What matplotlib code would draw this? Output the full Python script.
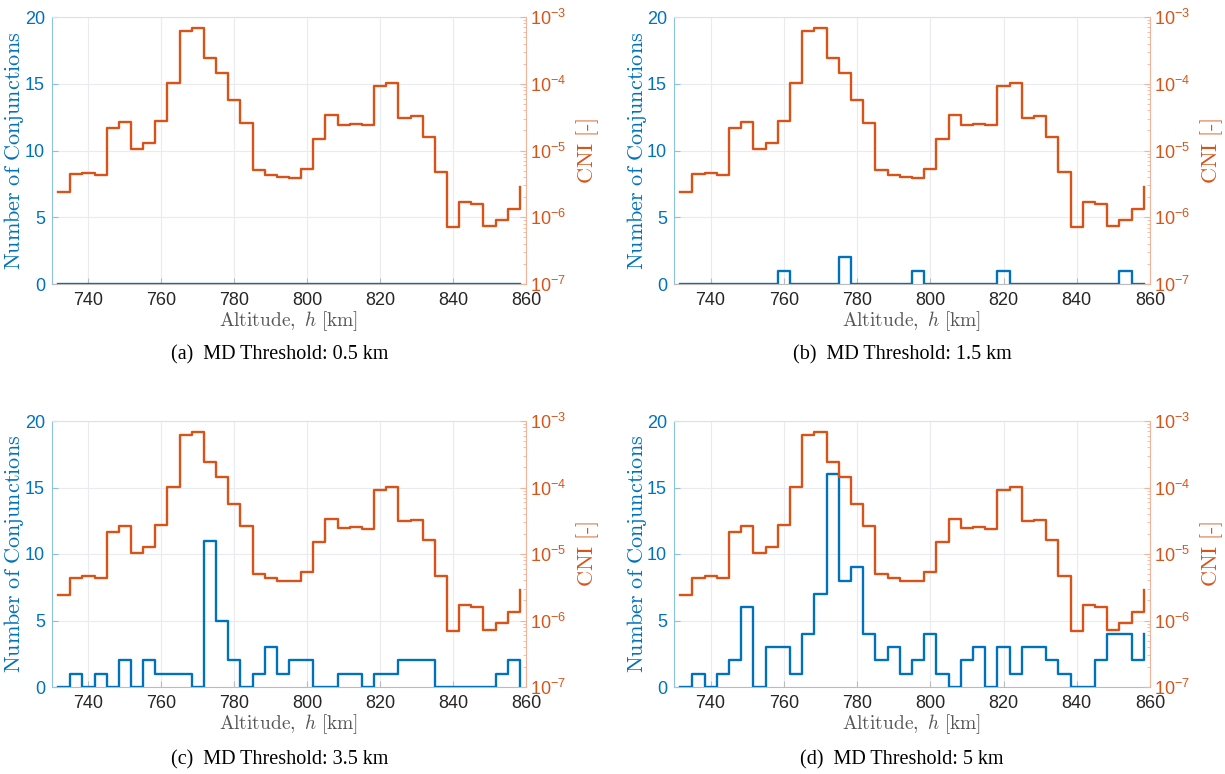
import matplotlib
matplotlib.use("Agg")
import matplotlib.pyplot as plt
import numpy as np
from matplotlib.ticker import LogLocator, NullFormatter

plt.rcParams['font.family'] = ['Liberation Sans', 'DejaVu Sans']

# bin start altitudes [km] (stairs plot, 3.33 km bins)
alt = 731.667 + 10.0 / 3.0 * np.arange(39)

# CNI per bin (same in every panel)
cni = [2.43e-6, 4.41e-6, 4.67e-6, 4.36e-6, 2.14e-5, 2.67e-5, 1.04e-5, 1.29e-5,
       2.73e-5, 1.01e-4, 6.25e-4, 6.86e-4, 2.44e-4, 1.46e-4, 5.62e-5, 2.61e-5,
       5.06e-6, 4.36e-6, 3.97e-6, 3.88e-6, 5.30e-6, 1.50e-5, 3.36e-5, 2.43e-5,
       2.52e-5, 2.40e-5, 9.20e-5, 1.03e-4, 3.10e-5, 3.28e-5, 1.61e-5, 4.72e-6,
       7.03e-7, 1.70e-6, 1.60e-6, 7.28e-7, 9.25e-7, 1.34e-6, 2.85e-6]

# number of conjunctions per bin for each MD threshold
n_05 = [0] * 39
n_15 = [0, 0, 0, 0, 0, 0, 0, 0, 1, 0, 0, 0, 0, 2, 0, 0, 0, 0, 0, 1,
        0, 0, 0, 0, 0, 0, 1, 0, 0, 0, 0, 0, 0, 0, 0, 0, 1, 0, 0]
n_35 = [0, 1, 0, 1, 0, 2, 0, 2, 1, 1, 1, 0, 11, 5, 2, 0, 1, 3, 1, 2,
        2, 0, 0, 1, 1, 0, 1, 1, 2, 2, 2, 0, 0, 0, 0, 0, 1, 2, 0]
n_5 = [0, 1, 0, 1, 2, 6, 0, 3, 3, 1, 4, 7, 16, 8, 9, 4, 2, 3, 1, 2,
       4, 1, 0, 2, 3, 0, 3, 1, 3, 3, 2, 1, 0, 0, 2, 4, 4, 2, 4]

captions = ['(a)  MD Threshold: 0.5 km', '(b)  MD Threshold: 1.5 km',
            '(c)  MD Threshold: 3.5 km', '(d)  MD Threshold: 5 km']
counts = [n_05, n_15, n_35, n_5]

blue = '#0072BD'
orange = '#D95319'

W, H = 1225, 774
fig = plt.figure(figsize=(W / 100, H / 100), dpi=100)

# axes boxes in pixels: left, top, right, bottom
boxes = [(52, 17, 526, 284), (674, 17, 1150, 284),
         (52, 421, 526, 687), (674, 421, 1150, 687)]
cap_y = [355, 355, 760, 760]

for i in range(4):
    l, t, r, b = boxes[i]
    ax = fig.add_axes([l / W, 1 - b / H, (r - l) / W, (b - t) / H])
    ax.step(alt, counts[i], where='post', color=blue, lw=1.7, zorder=3)
    ax.set_xlim(730, 860)
    ax.set_ylim(0, 20)
    ax.set_xticks(np.arange(740, 861, 20))
    ax.set_yticks(np.arange(0, 21, 5))
    ax.grid(True, color='#e8ebef', lw=0.8)
    ax.set_axisbelow(True)
    ax.tick_params(axis='x', direction='in', length=4, colors='#bbbbbb',
                   labelcolor='#262626', labelsize=13, pad=6)
    ax.tick_params(axis='y', direction='in', length=4, colors='#8cc0e4',
                   labelcolor=blue, labelsize=13, pad=5)
    ax.spines['left'].set_color('#8cc0e4')
    ax.spines['top'].set_color('#e0e0e0')
    ax.spines['bottom'].set_color('#bbbbbb')
    ax.spines['right'].set_visible(False)
    ax.set_xlabel(r'$\mathrm{Altitude,}\ h\ \mathrm{[km]}$', fontsize=14,
                  color='#555555', math_fontfamily='cm', labelpad=0)
    ax.set_ylabel(r'$\mathrm{Number\ of\ Conjunctions}$', fontsize=16,
                  color=blue, math_fontfamily='cm', va='center')
    ax.yaxis.set_label_coords((14 - l) / (r - l) if i % 2 == 0 else
                              (637 - l) / (r - l), 0.5)

    ax2 = ax.twinx()
    ax2.step(alt, cni, where='post', color=orange, lw=1.7)
    ax2.set_yscale('log')
    ax2.set_ylim(1e-7, 1e-3)
    ax2.yaxis.set_minor_locator(LogLocator(base=10, subs=np.arange(2, 10)))
    ax2.yaxis.set_minor_formatter(NullFormatter())
    ax2.tick_params(axis='y', which='major', direction='in', length=4,
                    colors='#f2b39b', labelcolor=orange, labelsize=13, pad=3)
    ax2.tick_params(axis='y', which='minor', direction='in', length=2.5,
                    colors='#f2b39b')
    ax2.spines['right'].set_color('#f2b39b')
    ax2.spines['left'].set_visible(False)
    ax2.spines['top'].set_visible(False)
    ax2.spines['bottom'].set_visible(False)
    ax2.set_ylabel(r'$\mathrm{CNI\ [\text{-}]}$', fontsize=16, color=orange,
                   math_fontfamily='cm', labelpad=6)

    fig.text((l + r) / 2 / W - 0.008, 1 - cap_y[i] / H, captions[i],
             ha='center', va='center', fontsize=14.5, family='Liberation Serif')

fig.savefig('out.png', dpi=100)
